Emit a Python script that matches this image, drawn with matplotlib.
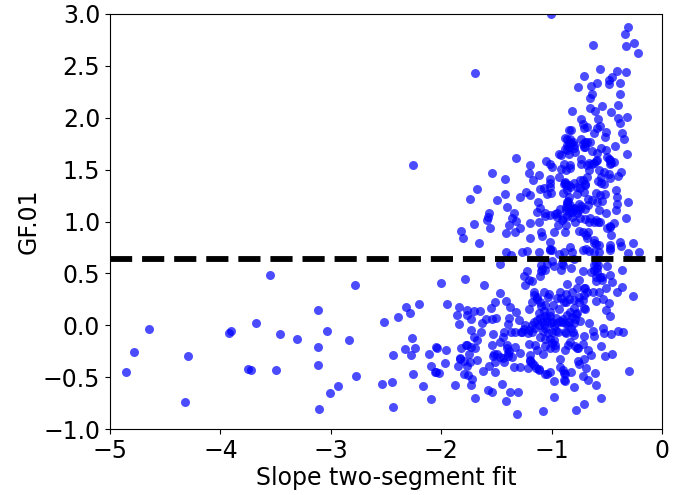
import numpy as np
import matplotlib
matplotlib.use('Agg')
from matplotlib import pyplot as plt

# points, left tail first
slope_tail = [-4.858,-4.783,-4.65,-4.294,-4.318,-3.92,-3.904,-3.675,-3.75,-3.723,-3.497,-3.458,-3.31,-3.554,-3.113,-3.119,-3.116,-3.038,-2.778,-2.833,-2.769,-2.932,-3.011,-3.11,-2.522,-2.395,-2.322,-2.286,-2.201,-2.262,-2.331,-2.235,-2.271,-2.44,-2.534,-2.449,-2.259,-2.168,-2.096,-2.434,-2.108,-2.048,-2.041,-2.09,-2.06,-2.048,-2.023,-2.005,-2.255,-1.693,-1.01]
gf_tail = [-0.454,-0.258,-0.036,-0.293,-0.74,-0.071,-0.055,0.025,-0.425,-0.428,-0.434,-0.084,-0.129,0.481,0.147,-0.213,-0.386,-0.055,0.385,-0.142,-0.492,-0.582,-0.653,-0.81,0.035,0.076,0.173,0.121,0.202,-0.12,-0.226,-0.216,-0.29,-0.29,-0.566,-0.55,-0.47,-0.589,-0.708,-0.785,-0.274,-0.213,-0.216,-0.39,-0.447,-0.454,-0.463,0.406,1.545,2.43,3.0]

# upper branch
slope_high = [-0.314,-0.335,-0.256,-0.329,-0.22,-0.628,-0.561,-0.41,-0.329,-0.706,-0.452,-0.486,-0.486,-0.386,-0.588,-0.646,-0.766,-0.634,-0.38,-0.655,-0.546,-0.404,-0.655,-0.818,-0.612,-0.462,-0.323,-0.398,-0.38,-0.736,-0.582,
-0.718,-0.709,-0.682,-0.561,-0.591,-0.621,-0.51,-0.519,-0.362,-0.35,-0.848,-0.824,-0.884,-0.431,-0.739,-0.652,-0.703,-0.833,-0.809,-0.845,-0.863,-0.712,-0.803,-0.863,-0.637,-0.555,-0.507,-0.591,-0.323,-1.325,-0.939,-0.914,-0.848,-0.794,-0.501,-0.477,-0.434,-0.477,-0.733,-0.739,-0.667,-0.621,-0.594,-1.195,-1.053,-1.02,-1.002,-0.893,-0.839,-0.914,-0.872,-0.833,-0.667,-0.576,-0.531,-0.486,-0.374,-0.404,-0.471,-0.555,-1.545,-1.204,-1.12,-1.428,-1.168,-1.014,-0.935,-0.682,-0.748,-0.803,-0.878,-0.887,-0.869,-0.697,-0.772,-0.585,-0.555,-0.531,-1.675,-1.105,-1.074,-1.014,-0.839,-0.748,-0.416,-1.425,-1.231,-1.195,-1.286,-1.044,-1.005,-0.899,-0.772,-0.706,-0.597,-0.561,-0.522,-0.41,-1.742,-1.494,-1.126,-0.676,-0.637,-0.591,-0.546,-0.413,-0.314,-1.404,-0.848,-0.863,-0.869,-0.833,-0.757,-0.673,-0.803,-0.422,-0.576,-0.513,-1.573,-1.346,-1.135,-1.105,-1.059,-0.923,-0.953,-0.848,-0.772,-0.742]
gf_high = [2.878,2.804,2.72,2.69,2.62,2.70,2.467,2.45,2.441,2.40,2.39,2.364,2.325,2.335,2.332,2.306,2.296,2.232,2.232,2.187,2.116,2.123,2.097,2.068,2.062,2.055,2.01,1.998,1.95,1.991,1.991,
1.94,1.898,1.908,1.924,1.898,1.856,1.863,1.818,1.856,1.795,1.879,1.879,1.808,1.731,1.795,1.766,1.77,1.792,1.77,1.753,1.737,1.721,1.705,1.689,1.683,1.712,1.689,1.657,1.647,1.615,1.647,1.644,1.647,1.673,1.625,1.593,1.574,1.554,1.599,1.551,1.561,1.561,1.593,1.548,1.58,1.557,1.522,1.551,1.541,1.503,1.496,1.512,1.496,1.496,1.477,1.458,1.477,1.439,1.423,1.432,1.467,1.467,1.448,1.41,1.397,1.41,1.429,1.432,1.4,1.374,1.384,1.358,1.352,1.352,1.336,1.387,1.374,1.362,1.317,1.317,1.326,1.329,1.336,1.32,1.304,1.265,1.284,1.259,1.239,1.265,1.275,1.278,1.265,1.281,1.278,1.255,1.262,1.239,1.22,1.204,1.188,1.22,1.207,1.191,1.198,1.172,1.188,1.137,1.239,1.191,1.143,1.159,1.169,1.156,1.127,1.108,1.111,1.079,1.079,1.079,1.095,1.127,1.079,1.117,1.085,1.095,1.111,1.117]

# just above the threshold
slope_mid = [-1.582,-1.588,-1.702,-1.82,-1.802,-1.564,-1.66,-1.361,-1.322,-1.391,-1.286,-1.334,-1.419,-1.201,-1.201,-1.12,-1.096,-1.09,-0.984,-0.948,-0.869,-0.884,-0.908,-0.788,-0.742,-0.667,-0.621,-0.561,-0.501,-0.471,-0.44,-0.329,-0.751,-0.718,-0.676,-0.682,-0.461,-1.016,-0.621,-0.576,-0.386,-0.374,-0.265,-0.471,-0.833,-0.818,-0.893,-1.014,-1.114,-1.225,-1.271,-1.413,-1.367,-0.939,-0.718,-0.688,-0.576,-0.471,-0.314,-0.208,-0.797]
gf_mid = [1.047,1.018,0.973,0.909,0.844,0.934,0.793,1.031,1.005,0.967,0.934,0.896,0.886,0.983,0.845,0.992,0.896,0.861,0.896,0.967,0.967,0.896,1.015,0.999,1.031,0.992,0.999,0.999,0.934,0.96,0.983,1.031,0.909,0.902,0.896,0.845,0.87,0.799,0.79,0.774,0.799,0.767,0.796,0.742,0.758,0.71,0.703,0.732,0.71,0.716,0.71,0.703,0.677,0.684,0.726,0.732,0.703,0.726,0.694,0.703,0.639]

# lower branch
slope_low = [-1.473,-1.099,-1.044,-0.984,-0.899,-0.824,-0.917,-1.059,-1.099,-1.222,-1.253,-1.21,-1.18,-1.105,-1.24,-0.718,-0.621,-0.582,-0.501,-0.368,-0.643,-0.591,-0.477,-0.546,-0.597,-0.452,-0.365,-0.413,-0.268,-0.507,-0.573,-0.628,-0.757,-0.866,-0.769,-0.697,-1.79,-1.615,-1.473,-1.95,-1.844,-1.862,-1.841,-1.769,-1.769,-1.708,-1.654,-1.733,-1.633,-1.554,-1.515,-1.419,-1.376,-1.322,-1.388,-1.503,-1.542,-1.594,-1.4,-1.733,-1.642,-1.708,-1.678,-1.536,-1.437,-1.443,-1.473,-1.542,-1.962,-1.823,-1.769,-1.733,-1.699,-1.754,-1.835,-1.799,-1.739,-1.675,-1.769,-1.853,-1.965,-1.799,-1.76,-1.727,-1.733,-1.875,-1.627,-1.573,-1.512,-1.515,-1.527,-1.473,-1.407,-1.401,-1.431,-1.361,-1.331,-1.292,-1.346,-1.289,-1.216,-1.452,-1.579,-1.545,-1.699,-1.382,-1.31,-1.413,-1.316,-1.083,-0.981,-0.778,-0.706,-0.555,-0.298,-0.452,-0.519,-0.597,-0.803,-0.884,-0.981,-1.059,-0.923,-0.93,-0.893,-0.824,-0.721,-0.673,-0.612,-0.694,-0.757,-0.763,-0.709,-0.643,-0.673,-0.555,-0.718,-0.772,-0.884,-0.969,-1.02,-1.08,-1.135,-1.201,-1.195,-1.165,-1.12,-1.014,-1.204,-1.15,-1.105,-1.059,-0.978,-0.96,-0.833,-0.797,-0.712,-0.628,-0.621,-0.525,-0.464,-0.401,-0.353,-0.537,-0.667,-0.742,-0.471,-0.507,-0.486,-0.537,-0.597,-0.712,-0.757,-0.712,-0.682,-0.712,-0.818,-0.869,-0.929,-0.953,-1.023,-1.068,-1.165,-1.135,-1.18,-1.105,-1.059,-1.21,-0.939,-0.803,-0.833,-0.772,-1.014,-1.059,-1.105,-1.165,-1.24,-1.301,-1.21,-1.331,-1.367,-1.271,-1.18,-1.12,-1.059,-1.008,-0.96,-0.908,-0.848,-0.878,-0.803,-1.0,-1.044,-1.12,-0.863,-0.893]
gf_low = [0.591,0.581,0.587,0.571,0.581,0.555,0.533,0.533,0.523,0.526,0.475,0.436,0.43,0.475,0.388,0.526,0.581,0.581,0.575,0.533,0.517,0.51,0.485,0.469,0.43,0.414,0.369,0.324,0.285,0.356,0.318,0.318,0.433,0.398,0.356,0.356,0.446,0.388,0.308,0.205,0.179,0.096,0.009,0.147,0.099,0.134,0.141,0.064,0.019,0.163,0.228,0.234,0.179,0.131,0.073,0.073,0.057,0.061,0.009,-0.045,-0.061,-0.11,-0.142,-0.081,-0.062,-0.11,-0.158,-0.193,-0.235,-0.222,-0.19,-0.206,-0.219,-0.277,-0.312,-0.341,-0.351,-0.338,-0.389,-0.396,-0.364,-0.473,-0.479,-0.518,-0.576,-0.576,-0.441,-0.389,-0.454,-0.351,-0.28,-0.303,-0.222,-0.27,-0.351,-0.303,-0.206,-0.267,-0.402,-0.402,-0.408,-0.566,-0.624,-0.64,-0.701,-0.643,-0.64,-0.73,-0.852,-0.829,-0.688,-0.817,-0.762,-0.701,-0.441,-0.28,-0.299,-0.576,-0.592,-0.537,-0.534,-0.466,-0.325,-0.399,-0.463,-0.45,-0.486,-0.531,-0.46,-0.415,-0.376,-0.344,-0.322,-0.283,-0.235,-0.203,-0.18,-0.222,-0.241,-0.222,-0.216,-0.28,-0.238,-0.286,-0.341,-0.383,-0.431,-0.447,-0.184,-0.19,-0.11,-0.132,-0.142,-0.055,-0.158,-0.094,-0.1,-0.055,-0.1,-0.078,-0.087,-0.055,-0.065,-0.029,0.019,0.041,0.093,0.151,0.215,0.253,0.234,0.163,0.228,0.292,0.318,0.363,0.324,0.221,0.318,0.26,0.298,0.318,0.318,0.276,0.221,0.221,0.196,0.157,0.157,0.17,0.131,0.115,0.131,0.093,0.067,0.035,0.003,0.051,-0.045,-0.068,-0.068,-0.068,-0.068,0.003,-0.029,0.019,0.067,0.035,0.035,-0.062,0.019,-0.062,0.067,0.115,0.099,0.228]

# overlapping points inside the dark clusters, rougher estimates
slope_dense = [-1.16,-1.13,-1.10,-1.07,-1.03,-0.99,-0.92,-0.87,-0.84,-0.80,-0.75,-0.72,-0.70,-0.78,-0.82,-0.79,
-1.18,-1.15,-1.13,-1.09,-1.07,-1.04,-1.02,-1.0,-0.98,-0.95,-0.93,-0.9,-0.88,-0.85,-0.83,-0.81,-0.87,-0.94,-1.03,-1.08,-1.25,-1.28,-1.22,
-1.0,-1.02,-0.97,-1.06,-0.85,-0.79,-0.76,-1.2,-1.18,-1.14,-1.12,-0.9,-0.88,-0.89,-1.04,-1.39,-1.41,-1.4,-1.44,-1.5,-1.53,-1.78,-1.83,
-0.86,-0.83,-0.8,-0.84,-0.72,-0.7,-0.68,-0.88,-0.64,-0.6,-0.48,-0.46,-0.68,-0.7,-0.72,-0.88,-0.84,-0.86,-1.02,-0.85,-0.86,-0.84,-0.87,-0.82,-0.8,-0.77,-0.74,-0.7,
-1.06,-1.02,-0.97,-0.95,-0.9,-0.86,-0.82,-0.7,-0.65,-0.6,-0.58,-0.47,-0.69,-0.62,-0.6,-0.47,-0.66,-0.62,-1.0,-1.02,
-0.6,-0.59,-0.62,-0.56,-0.55,-0.6,-1.09,-1.0,-0.91]
gf_dense = [0.29,0.25,0.19,0.14,0.27,0.2,0.26,0.30,0.25,0.24,0.27,0.24,0.16,0.11,0.08,0.06,
0.0,-0.03,0.05,0.03,0.0,0.04,0.09,0.03,-0.01,0.02,0.04,0.06,0.02,0.0,-0.03,-0.06,-0.07,-0.06,-0.07,-0.05,-0.04,-0.06,-0.07,
-0.17,-0.13,-0.19,-0.2,-0.19,-0.2,-0.22,-0.33,-0.36,-0.41,-0.42,-0.43,-0.47,-0.53,-0.47,-0.25,-0.19,-0.3,-0.31,-0.28,-0.3,-0.19,-0.32,
1.79,1.76,1.74,1.72,1.75,1.72,1.77,1.7,1.55,1.58,1.6,1.56,1.54,1.36,1.4,1.37,1.35,1.3,1.37,1.2,1.17,1.13,1.11,1.09,1.12,1.08,1.15,1.12,
1.05,1.06,1.07,1.04,1.03,1.05,1.04,1.02,1.03,1.01,1.0,0.95,0.87,0.82,0.78,0.77,0.72,0.71,0.73,0.73,
0.6,0.55,0.53,0.47,0.44,0.47,0.54,0.62,0.6]

threshold = 0.64

x_vals = slope_tail + slope_high + slope_mid + slope_low + slope_dense
y_vals = gf_tail + gf_high + gf_mid + gf_low + gf_dense

fig, ax = plt.subplots(figsize=(6.92,4.95), dpi=100)
fig.subplots_adjust(left=0.159, right=0.957, top=0.972, bottom=0.133)

ax.scatter(x_vals, y_vals, s=42, color='b', alpha=0.7, linewidths=0)
ax.axhline(threshold, color='k', linewidth=4.2, linestyle=(0,(3.8,1.7)))

ax.set_xlim(-5,0)
ax.set_ylim(-1,3)
ax.set_xticks(np.arange(-5,1,1))
ax.set_yticks(np.arange(-1,3.5,0.5))
ax.tick_params(labelsize=17)
ax.set_xlabel('Slope two-segment fit', fontsize=17, labelpad=2)
ax.set_ylabel('GF.01', fontsize=17, labelpad=2)

plt.savefig('out.png', dpi=100)
